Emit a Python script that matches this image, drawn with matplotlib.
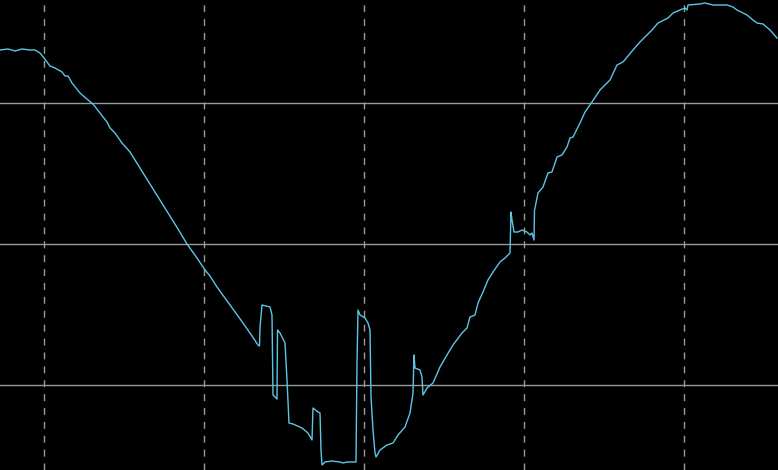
import matplotlib.pyplot as plt

# trace of the signal (x position, level)
x = [0, 8, 15, 22, 30, 35, 40, 44, 50, 55, 62, 65, 68, 72, 80, 88, 93, 100,
     107, 110, 115, 122, 130, 135, 147, 158, 170, 178, 187, 197, 205, 210,
     217, 230, 243, 252, 258, 259.5, 260, 262, 266, 270, 272, 272.5, 273,
     277, 277.5, 280, 285, 287, 289, 293, 302, 308, 312, 313, 318, 320, 321,
     322, 325, 332, 340, 343, 347, 356, 357, 358, 360, 365, 368, 370, 371,
     373, 375, 376, 380, 387, 393, 398, 405, 410, 413, 414, 415, 420, 422,
     423, 427, 433, 440, 447, 453, 462, 467, 470, 475, 478, 483, 488, 493,
     500, 505, 510, 511, 512, 514, 518, 522, 527, 530, 532, 534, 534.5, 535,
     538, 543, 548, 552, 557, 562, 567, 570, 573, 580, 585, 592, 600, 605,
     610, 617, 623, 633, 640, 652, 658, 668, 673, 680, 685, 687, 688, 700,
     705, 713, 727, 733, 737, 743, 747, 753, 757, 763, 770, 777]
y = [420, 421, 419, 421, 420, 420, 417, 412, 404, 402, 398, 394, 394, 387,
     377, 370, 366, 357, 348, 342, 337, 327, 318, 310, 291, 273, 254, 241,
     226, 212, 200, 194, 183, 165, 147, 134, 125, 124, 143, 165, 164, 163,
     155, 110, 75, 71, 140, 137, 127, 90, 47, 46, 42, 37, 30, 62, 58, 57,
     20, 5, 8, 9, 8, 7, 8, 8, 107, 160, 155, 152, 147, 140, 73, 40, 17, 13,
     20, 25, 27, 35, 43, 57, 77, 115, 102, 100, 93, 75, 82, 87, 103, 115,
     125, 137, 142, 153, 155, 167, 178, 190, 198, 208, 212, 217, 258, 250,
     238, 238, 240, 238, 235, 237, 230, 260, 262, 277, 283, 297, 298, 313,
     315, 323, 332, 333, 347, 358, 368, 380, 385, 390, 405, 408, 420, 428,
     440, 447, 452, 457, 460, 462, 460, 465, 466, 467, 465, 465, 463, 460,
     457, 455, 450, 447, 446, 440, 432]

x_grid = [44, 204, 364, 524, 684]
y_grid = [85, 226, 367]

fig = plt.figure(figsize=(7.78, 4.70), dpi=100, facecolor="black")
ax = fig.add_axes([0, 0, 1, 1], facecolor="black")

for gx in x_grid:
    ax.axvline(gx, color="#9a9a9a", linestyle=(0, (5, 5)), linewidth=1, zorder=1)
for gy in y_grid:
    ax.axhline(gy, color="#9a9a9a", linestyle="-", linewidth=1, zorder=1)

ax.plot(x, y, color="#5cc6e6", linewidth=1.0, zorder=2)

ax.set_xlim(0, 778)
ax.set_ylim(0, 470)
ax.set_xticks([]); ax.set_yticks([])
for s in ax.spines.values():
    s.set_visible(False)

plt.savefig("out.png", dpi=100, facecolor="black")
